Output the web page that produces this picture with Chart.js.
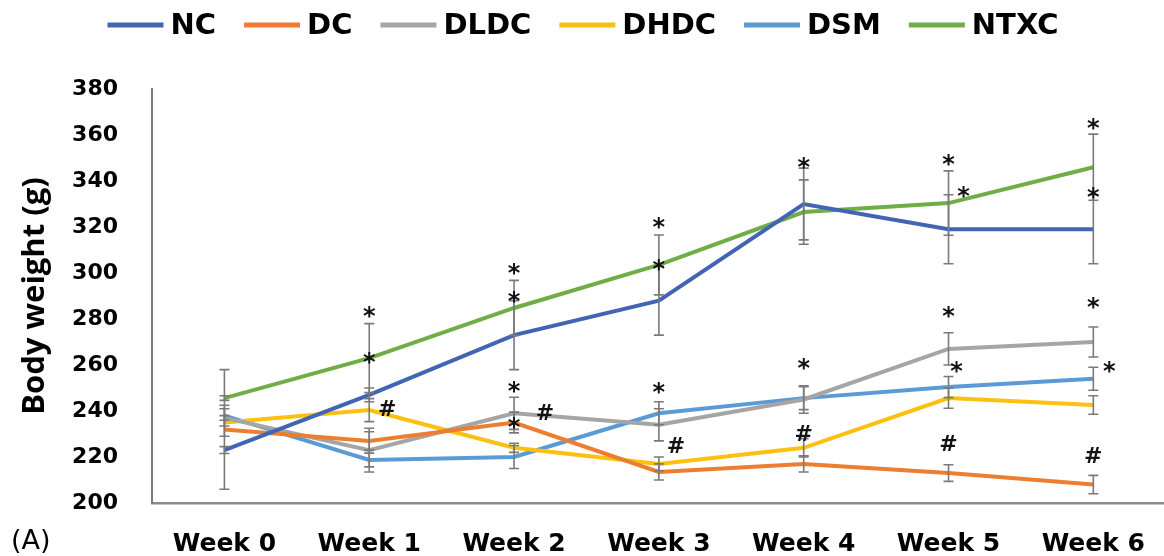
<!DOCTYPE html>
<html>
<head>
<meta charset="utf-8">
<script src="https://cdn.jsdelivr.net/npm/chart.js@4.4.1/dist/chart.umd.min.js"></script>
<style>
  html, body { margin: 0; padding: 0; background: #ffffff; width: 1164px; height: 556px; overflow: hidden; }
  #wrap { position: relative; width: 1171px; height: 556px; }
</style>
</head>
<body>
<div id="wrap"><canvas id="bw" width="1171" height="556"></canvas></div>
<script>
// Body weight (g) per group, weekly means
const weeks = ['Week 0', 'Week 1', 'Week 2', 'Week 3', 'Week 4', 'Week 5', 'Week 6'];
const groups = ['NC', 'DC', 'DLDC', 'DHDC', 'DSM', 'NTXC'];

const nc   = [223, 247, 273, 288, 330, 319, 319];
const dc   = [232, 227, 235, 213.5, 217, 213, 208];
const dldc = [237, 223, 239, 234, 245, 267, 270];
const dhdc = [235, 240.4, 224, 217, 224, 245.6, 242.6];
const dsm  = [238, 218.7, 220, 239, 245.6, 250.4, 254];
const ntxc = [245.6, 263, 284.8, 303.5, 326.5, 330.4, 346];

// standard deviations (error bars)
const ncSd   = [1.5, 3, 15, 15, 15.6, 15, 15];
const dcSd   = [26, 4, 4.5, 3.5, 3.5, 3.6, 4];
const dldcSd = [1, 9.5, 7, 7, 6, 7, 6.5];
const dhdcSd = [6, 5, 2, 3, 4, 4.4, 4];
const dsmSd  = [4.5, 3, 5, 5, 5, 4.6, 5];
const ntxcSd = [1, 15, 12, 13, 14, 14, 14.4];

// y-axis ticks
const yTicks = [200, 220, 240, 260, 280, 300, 320, 340, 360, 380];

// significance marks: [week index, body weight level, symbol]
const marks = [
  [1, 283, '*'], [1, 263, '*'], [1, 241.3, '#'],
  [2, 301.7, '*'], [2, 289.6, '*'], [2, 250.4, '*'], [2, 234.8, '*'], [2, 239.6, '#'],
  [3, 321.7, '*'], [3, 303.5, '*'], [3, 250, '*'], [3, 225.2, '#'],
  [4, 347.8, '*'], [4, 260.4, '*'], [4, 230.4, '#'],
  [5, 349, '*'], [5, 335.2, '*'], [5, 283, '*'], [5, 259, '*'], [5, 226, '#'],
  [6, 365, '*'], [6, 334.8, '*'], [6, 287, '*'], [6, 259, '*'], [6, 221, '#']
];
// horizontal nudge (px) of each mark from its week position
const markNudge = [0, 0, 18, 0, 0, 0, 0, 31, 0, 0, 0, 17, 0, 0, 0, 0, 15, 0, 8, 0, 0, 0, 0, 16, 0];

const series = [nc, dc, dldc, dhdc, dsm, ntxc];
const spreads = [ncSd, dcSd, dldcSd, dhdcSd, dsmSd, ntxcSd];
const colors = ['#4264b4', '#ed7d31', '#a5a5a5', '#fcc010', '#5b9bd5', '#70ad47'];

const FONT = "'DejaVu Sans', sans-serif";
const TITLE_FONT = "'Open Sans', 'DejaVu Sans', sans-serif";

const errorBars = {
  id: 'errorBars',
  afterDatasetsDraw(chart) {
    const { ctx, scales: { x, y } } = chart;
    ctx.save();
    ctx.strokeStyle = '#7a7a7a';
    ctx.lineWidth = 1.6;
    chart.data.datasets.forEach((ds, i) => {
      const sd = spreads[i];
      ds.data.forEach((v, j) => {
        const px = x.getPixelForValue(j);
        const top = y.getPixelForValue(v + sd[j]);
        const bot = y.getPixelForValue(v - sd[j]);
        ctx.beginPath();
        ctx.moveTo(px, top); ctx.lineTo(px, bot);
        ctx.moveTo(px - 5, top); ctx.lineTo(px + 5, top);
        ctx.moveTo(px - 5, bot); ctx.lineTo(px + 5, bot);
        ctx.stroke();
      });
    });
    ctx.restore();
  }
};

const sigMarks = {
  id: 'sigMarks',
  afterDatasetsDraw(chart) {
    const { ctx, scales: { x, y } } = chart;
    ctx.save();
    ctx.fillStyle = '#111111';
    ctx.textAlign = 'center';
    ctx.textBaseline = 'alphabetic';
    marks.forEach(([w, v, s], k) => {
      ctx.font = s === '#' ? `bold 22px ${FONT}` : `bold 24px ${FONT}`;
      const m = ctx.measureText(s);
      const px = x.getPixelForValue(w) + markNudge[k];
      const py = y.getPixelForValue(v);
      const shift = (m.actualBoundingBoxAscent - m.actualBoundingBoxDescent) / 2;
      ctx.fillText(s, px, py + shift);
    });
    ctx.restore();
  }
};

const topLegend = {
  id: 'topLegend',
  afterDraw(chart) {
    const { ctx } = chart;
    const lineLen = 56, gap = 7, itemGap = 28, cy = 25;
    ctx.save();
    ctx.font = `bold 29px ${FONT}`;
    const widths = chart.data.datasets.map(ds => ctx.measureText(ds.label).width);
    const total = widths.reduce((a, b) => a + b, 0) + widths.length * (lineLen + gap) + (widths.length - 1) * itemGap;
    let cx = 583 - total / 2;
    ctx.textBaseline = 'middle';
    ctx.textAlign = 'left';
    chart.data.datasets.forEach((ds, i) => {
      ctx.strokeStyle = ds.borderColor;
      ctx.lineWidth = 5;
      ctx.beginPath();
      ctx.moveTo(cx, cy); ctx.lineTo(cx + lineLen, cy);
      ctx.stroke();
      cx += lineLen + gap;
      ctx.fillStyle = '#000000';
      ctx.fillText(ds.label, cx, cy + 1);
      cx += widths[i] + itemGap;
    });
    // panel tag
    ctx.font = `27px ${FONT}`;
    ctx.fillText('(A)', 11, 542);
    ctx.restore();
  }
};

new Chart(document.getElementById('bw'), {
  type: 'line',
  data: {
    labels: weeks,
    datasets: groups.map((g, i) => ({
      label: g,
      data: series[i],
      borderColor: colors[i],
      backgroundColor: colors[i],
      borderWidth: 4,
      pointRadius: 0,
      tension: 0,
      fill: false
    }))
  },
  options: {
    responsive: false,
    animation: false,
    devicePixelRatio: 1,
    layout: { padding: { top: 89, left: 0, right: 0, bottom: 0 } },
    plugins: { legend: { display: false }, tooltip: { enabled: false } },
    scales: {
      x: {
        type: 'category',
        offset: true,
        grid: { display: false, drawTicks: false },
        border: { display: true, color: '#8a8a8a', width: 2.5 },
        ticks: { color: '#000000', font: { family: FONT, size: 25, weight: 'bold' }, padding: 26, maxRotation: 0 },
        afterFit(s) { s.height = 53; }
      },
      y: {
        min: 200,
        max: 380,
        grid: { display: false, drawTicks: false },
        border: { display: true, color: '#7a7a7a', width: 2 },
        afterBuildTicks(s) { s.ticks = yTicks.map(v => ({ value: v })); },
        ticks: { color: '#000000', font: { family: FONT, size: 22, weight: 'bold' }, padding: 34 },
        title: {
          display: true,
          text: 'Body weight (g)',
          color: '#000000',
          font: { family: TITLE_FONT, size: 31, weight: 'bold', lineHeight: 1.1 },
          padding: { top: 18, bottom: 0 }
        },
        afterFit(s) { s.width = 152; }
      }
    }
  },
  plugins: [errorBars, sigMarks, topLegend]
});
</script>
</body>
</html>
